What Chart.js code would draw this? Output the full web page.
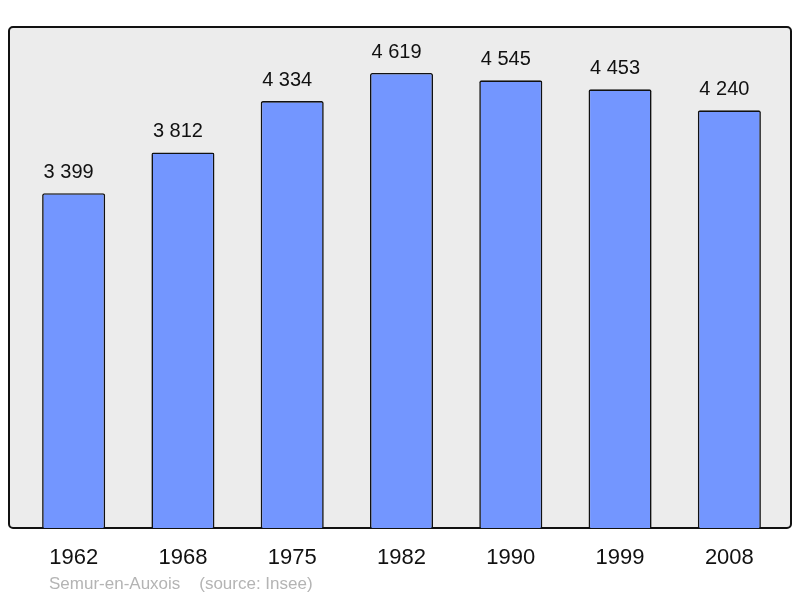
<!DOCTYPE html>
<html>
<head>
<meta charset="utf-8">
<script src="https://cdn.jsdelivr.net/npm/chart.js@4/dist/chart.umd.min.js"></script>
<style>
  html, body { margin: 0; padding: 0; background: #fff; }
  #wrap { position: relative; width: 800px; height: 598px; }
</style>
</head>
<body>
<div id="wrap"><canvas id="graph" width="800" height="598"></canvas></div>
<script>
const years = ['1962', '1968', '1975', '1982', '1990', '1999', '2008'];
const population = [3399, 3812, 4334, 4619, 4545, 4453, 4240];
const yMax = 5086;
const footer = 'Semur-en-Auxois    (source: Insee)';

const fmt = v => String(v).replace(/\B(?=(\d{3})+(?!\d))/g, ' ');

// grey rounded frame behind the bars
const frame = {
  id: 'frame',
  beforeDatasetsDraw(chart) {
    const { ctx, chartArea: a } = chart;
    const x = a.left - 10, y = a.top, w = a.right + 7 - x, h = a.bottom - a.top;
    ctx.save();
    ctx.beginPath();
    ctx.roundRect(x, y, w, h, 4);
    ctx.fillStyle = '#ececec';
    ctx.fill();
    ctx.lineWidth = 2;
    ctx.strokeStyle = '#111';
    ctx.stroke();
    ctx.restore();
  },
  afterDatasetsDraw(chart) {
    const { ctx } = chart;
    const meta = chart.getDatasetMeta(0);
    ctx.save();
    ctx.font = '20px "Liberation Sans", Arial, sans-serif';
    ctx.fillStyle = '#111';
    ctx.textAlign = 'center';
    ctx.textBaseline = 'alphabetic';
    meta.data.forEach((bar, i) => {
      ctx.fillText(fmt(population[i]), bar.x - 5, bar.y - 15);
    });
    ctx.font = '17px "Liberation Sans", Arial, sans-serif';
    ctx.fillStyle = '#b4b4b4';
    ctx.textAlign = 'left';
    ctx.textBaseline = 'middle';
    ctx.fillText(footer, 49, 584);
    ctx.restore();
  }
};

new Chart(document.getElementById('graph').getContext('2d'), {
  type: 'bar',
  data: {
    labels: years,
    datasets: [{
      data: population,
      backgroundColor: '#7396ff',
      borderColor: '#111',
      borderWidth: 1.6,
      borderRadius: 2,
      borderSkipped: 'bottom',
      categoryPercentage: 1,
      barPercentage: 0.577
    }]
  },
  options: {
    responsive: false,
    animation: false,
    layout: { padding: { left: 19, right: 16, top: 27, bottom: 30 } },
    plugins: { legend: { display: false }, tooltip: { enabled: false } },
    scales: {
      x: {
        grid: { display: false, drawTicks: false },
        border: { display: false },
        ticks: {
          color: '#111',
          font: { family: '"Liberation Sans", Arial, sans-serif', size: 22 },
          padding: 17
        },
        afterFit(scale) { scale.height = 40; }
      },
      y: { display: false, min: 0, max: yMax }
    }
  },
  plugins: [frame]
});
</script>
</body>
</html>
